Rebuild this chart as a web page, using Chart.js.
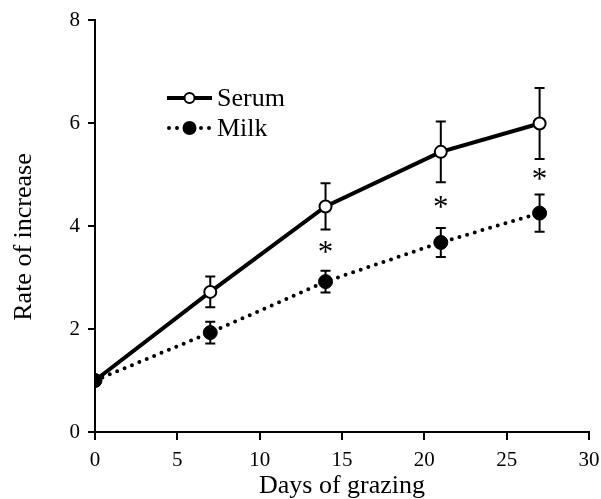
<!DOCTYPE html>
<html>
<head>
<meta charset="utf-8">
<script src="https://cdn.jsdelivr.net/npm/chart.js@4"></script>
<style>
  html, body { margin: 0; padding: 0; background: #fff; }
  #wrap { width: 601px; height: 499px; }
</style>
</head>
<body>
<div id="wrap"><canvas id="myChart" width="601" height="499"></canvas></div>
<script>
// data
const days = [0, 7, 14, 21, 27];
const serum = [1, 2.72, 4.38, 5.44, 5.99];
const serumErr = [0, 0.30, 0.45, 0.59, 0.69];
const milk = [1, 1.93, 2.92, 3.68, 4.25];
const milkErr = [0, 0.21, 0.21, 0.28, 0.36];
const significant = [false, false, true, true, true];
const xTicks = [0, 5, 10, 15, 20, 25, 30];
const yTicks = [0, 2, 4, 6, 8];

const FONT = 'Liberation Serif';

function toPoints(xs, ys) {
    return xs.map((x, i) => ({ x: x, y: ys[i] }));
}

// error bars under the markers
const errorBars = {
    id: 'errorBars',
    beforeDatasetsDraw(chart) {
        const { ctx, scales: { x, y } } = chart;
        const sets = [[serum, serumErr], [milk, milkErr]];
        ctx.save();
        ctx.strokeStyle = '#000';
        ctx.lineWidth = 2;
        sets.forEach(([vals, errs]) => {
            days.forEach((d, i) => {
                if (!errs[i]) return;
                const px = x.getPixelForValue(d);
                const top = y.getPixelForValue(vals[i] + errs[i]);
                const bot = y.getPixelForValue(vals[i] - errs[i]);
                ctx.beginPath();
                ctx.moveTo(px, top); ctx.lineTo(px, bot);
                ctx.moveTo(px - 5, top); ctx.lineTo(px + 5, top);
                ctx.moveTo(px - 5, bot); ctx.lineTo(px + 5, bot);
                ctx.stroke();
            });
        });
        ctx.restore();
    }
};

// asterisks between the two error bars, y title, legend
const extras = {
    id: 'extras',
    afterDatasetsDraw(chart) {
        const { ctx, scales: { x, y } } = chart;
        ctx.save();
        ctx.fillStyle = '#000';
        ctx.font = '31px "' + FONT + '"';
        ctx.textAlign = 'center';
        ctx.textBaseline = 'middle';
        days.forEach((d, i) => {
            if (!significant[i]) return;
            const a = y.getPixelForValue(serum[i] - serumErr[i]);
            const b = y.getPixelForValue(milk[i] + milkErr[i]);
            ctx.fillText('*', x.getPixelForValue(d), (a + b) / 2 + 4);
        });

        // y axis title (sits a bit below the middle of the axis)
        ctx.save();
        ctx.translate(24, 237);
        ctx.rotate(-Math.PI / 2);
        ctx.font = '26px "' + FONT + '"';
        ctx.fillText('Rate of increase', 0, 0);
        ctx.restore();

        // legend
        const lx = 167, lw = 45;
        const rows = [
            { label: 'Serum', y: 98, dash: [], fill: '#fff', r: 5 },
            { label: 'Milk', y: 128, dash: [0, 8], fill: '#000', r: 6 }
        ];
        rows.forEach(r => {
            ctx.strokeStyle = '#000';
            ctx.lineWidth = 4;
            ctx.lineCap = r.dash.length ? 'round' : 'butt';
            ctx.setLineDash(r.dash);
            ctx.beginPath();
            ctx.moveTo(lx + (r.dash.length ? 2 : 0), r.y);
            ctx.lineTo(lx + lw, r.y);
            ctx.stroke();
            ctx.setLineDash([]);
            ctx.beginPath();
            ctx.arc(lx + lw / 2, r.y, r.r, 0, Math.PI * 2);
            ctx.fillStyle = r.fill;
            ctx.fill();
            ctx.lineWidth = 2;
            ctx.stroke();
            ctx.fillStyle = '#000';
            ctx.font = '26px "' + FONT + '"';
            ctx.textAlign = 'left';
            ctx.fillText(r.label, lx + lw + 5, r.y + 1);
        });
        ctx.restore();
    }
};

const ctx = document.getElementById('myChart').getContext('2d');
const myChart = new Chart(ctx, {
    type: 'scatter',
    data: {
        datasets: [
            {
                label: 'Milk',
                data: toPoints(days, milk),
                showLine: true,
                borderColor: '#000',
                borderWidth: 4,
                borderDash: [0, 8],
                borderCapStyle: 'round',
                pointRadius: 7,
                pointBackgroundColor: '#000',
                pointBorderColor: '#000',
                pointBorderWidth: 1
            },
            {
                label: 'Serum',
                data: toPoints(days, serum),
                showLine: true,
                borderColor: '#000',
                borderWidth: 4,
                pointRadius: 6,
                pointBackgroundColor: '#fff',
                pointBorderColor: '#000',
                pointBorderWidth: 2
            }
        ]
    },
    options: {
        responsive: false,
        animation: false,
        layout: { padding: { top: 20, right: 12, left: 0, bottom: 0 } },
        plugins: { legend: { display: false }, tooltip: { enabled: false } },
        scales: {
            x: {
                type: 'linear',
                min: 0, max: 30,
                afterBuildTicks: s => { s.ticks = xTicks.map(v => ({ value: v })); },
                afterFit: s => { s.height = 67; s.paddingRight = 0; s.paddingLeft = 0; },
                border: { color: '#000', width: 2 },
                grid: { drawOnChartArea: false, drawTicks: true, tickLength: 8, color: '#000', lineWidth: 2 },
                ticks: { color: '#000', font: { family: FONT, size: 21 }, padding: 8, maxRotation: 0 },
                title: { display: true, text: 'Days of grazing', color: '#000', font: { family: FONT, size: 26, lineHeight: 1 }, padding: { top: 0, bottom: 0 } }
            },
            y: {
                min: 0, max: 8,
                afterBuildTicks: s => { s.ticks = yTicks.map(v => ({ value: v })); },
                afterFit: s => { s.width = 95; s.paddingTop = 0; s.paddingBottom = 0; },
                border: { color: '#000', width: 2 },
                grid: { drawOnChartArea: false, drawTicks: true, tickLength: 7, color: '#000', lineWidth: 2 },
                ticks: { color: '#000', font: { family: FONT, size: 21 }, padding: 8 }
            }
        }
    },
    plugins: [errorBars, extras]
});
</script>
</body>
</html>
